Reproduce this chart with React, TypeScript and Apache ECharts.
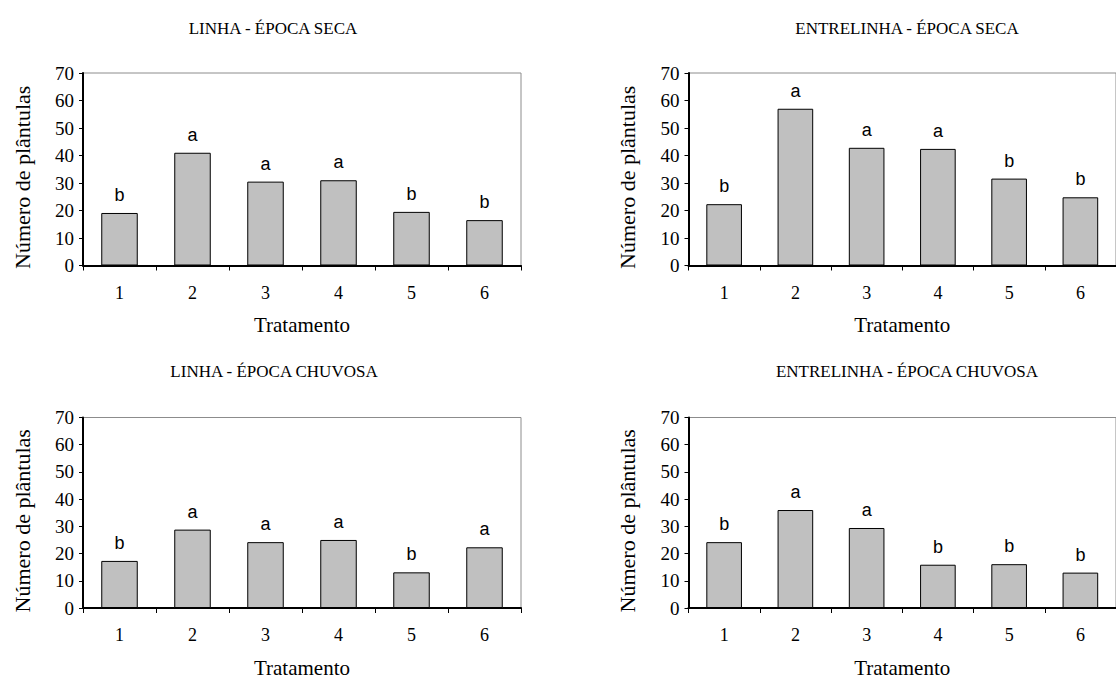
import React, { useEffect, useRef } from "react";
import * as echarts from "echarts";

const categories = ["1", "2", "3", "4", "5", "6"];
const yTicks = { min: 0, max: 70, interval: 10 };

const titles = [
  "LINHA - ÉPOCA SECA",
  "ENTRELINHA - ÉPOCA SECA",
  "LINHA - ÉPOCA CHUVOSA",
  "ENTRELINHA - ÉPOCA CHUVOSA",
];

const linhaSeca = [19.1, 41, 30.5, 31, 19.5, 16.5];
const entrelinhaSeca = [22.3, 57, 42.8, 42.4, 31.6, 24.8];
const linhaChuvosa = [17.3, 28.8, 24.2, 25, 13.1, 22.3];
const entrelinhaChuvosa = [24.2, 36, 29.4, 15.9, 16.1, 13.0];

const lettersLinhaSeca = ["b", "a", "a", "a", "b", "b"];
const lettersEntrelinhaSeca = ["b", "a", "a", "a", "b", "b"];
const lettersLinhaChuvosa = ["b", "a", "a", "a", "b", "a"];
const lettersEntrelinhaChuvosa = ["b", "a", "a", "b", "b", "b"];

const xName = "Tratamento";
const yName = "Número de plântulas";

const SERIF = "Liberation Serif";
const SANS = "Liberation Sans";

export default function App() {
  const ref = useRef<HTMLDivElement>(null);

  useEffect(() => {
    if (!ref.current) return;
    const chart = echarts.init(ref.current, undefined, { renderer: "svg" });

    const panels = [
      { data: linhaSeca, letters: lettersLinhaSeca },
      { data: entrelinhaSeca, letters: lettersEntrelinhaSeca },
      { data: linhaChuvosa, letters: lettersLinhaChuvosa },
      { data: entrelinhaChuvosa, letters: lettersEntrelinhaChuvosa },
    ];

    const grids = [
      { left: 83, right: 595, top: 73, bottom: 413.5 },
      { left: 688.5, right: -7.5, top: 73, bottom: 413.5 },
      { left: 83, right: 595, top: 417.5, bottom: 69.5 },
      { left: 688.5, right: -7.5, top: 417.5, bottom: 69.5 },
    ].map((g) => ({
      ...g,
      show: true,
      borderColor: "#8c8c8c",
      borderWidth: 1,
      backgroundColor: "transparent",
      containLabel: false,
    }));

    const titlePos = [
      { x: 273, y: 28 },
      { x: 907, y: 28 },
      { x: 274, y: 371 },
      { x: 907, y: 371 },
    ];

    const option: any = {
      animation: false,
      backgroundColor: "#ffffff",
      textStyle: { fontFamily: SERIF },
      grid: grids,
      xAxis: panels.map((_, i) => ({
        type: "category",
        gridIndex: i,
        data: categories,
        boundaryGap: true,
        name: xName,
        nameLocation: "middle",
        nameGap: 49,
        nameTextStyle: { fontFamily: SERIF, fontSize: 21, color: "#000" },
        axisLine: { show: true, lineStyle: { color: "#000", width: 2 } },
        axisTick: { show: true, alignWithLabel: false, length: 5, lineStyle: { color: "#000", width: 1 } },
        axisLabel: { fontFamily: SERIF, fontSize: 18, color: "#000", margin: 18 },
        splitLine: { show: false },
      })),
      yAxis: panels.map((_, i) => ({
        type: "value",
        gridIndex: i,
        min: yTicks.min,
        max: yTicks.max,
        interval: yTicks.interval,
        name: yName,
        nameLocation: "middle",
        nameGap: 50,
        nameTextStyle: {
          fontFamily: SERIF,
          fontSize: 22,
          color: "#000",
          padding: [0, 16, 0, 0],
        },
        axisLine: { show: true, lineStyle: { color: "#000", width: 2 } },
        axisTick: { show: true, length: 4, inside: false, lineStyle: { color: "#000", width: 1 } },
        axisLabel: { fontFamily: SERIF, fontSize: 19, color: "#000", margin: 9 },
        splitLine: { show: false },
      })),
      series: panels.map((p, i) => ({
        type: "bar",
        xAxisIndex: i,
        yAxisIndex: i,
        data: p.data,
        barCategoryGap: "50%",
        itemStyle: { color: "#c0c0c0", borderColor: "#000", borderWidth: 1 },
        label: {
          show: true,
          position: "top",
          distance: 9,
          formatter: (params: any) => p.letters[params.dataIndex],
          fontFamily: SANS,
          fontSize: 18,
          color: "#000",
        },
      })),
      graphic: titles.map((t, i) => ({
        type: "text",
        x: titlePos[i].x,
        y: titlePos[i].y,
        style: {
          text: t,
          fill: "#000",
          fontFamily: SERIF,
          fontSize: 17,
          textAlign: "center",
          textVerticalAlign: "middle",
        },
      })),
    };

    chart.setOption(option);
    return () => chart.dispose();
  }, []);

  return (
    <div
      ref={ref}
      style={{ position: "absolute", left: 0, top: 0, width: 1116, height: 679 }}
    />
  );
}
